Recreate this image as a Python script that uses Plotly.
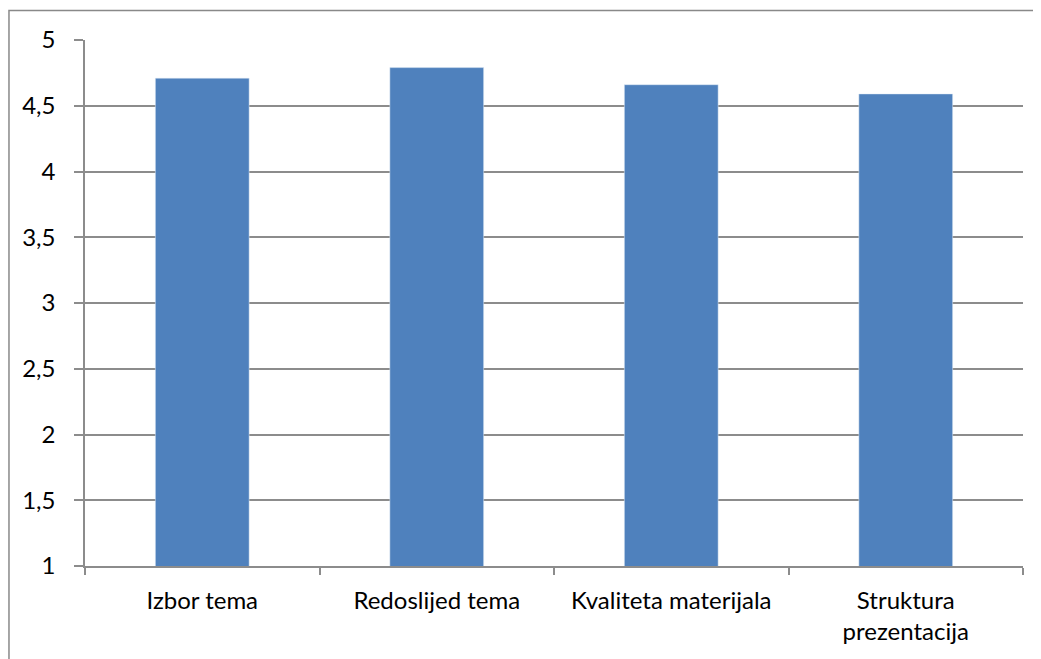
import plotly.graph_objects as go

# ── Datos ─────────────────────────────────────────────────────────────
categorias = ["Izbor tema", "Redoslijed tema", "Kvaliteta materijala",
              "Struktura<br>prezentacija"]
ocjene = [4.71, 4.79, 4.66, 4.59]
y_ticks = [1, 1.5, 2, 2.5, 3, 3.5, 4, 4.5, 5]

# La página añade 8 px de margen al body: se compensa aquí
OFF = 8
W, H = 1041 - OFF, 659 - OFF
L, R, T, B = 85 - OFF, 18.3, 39.5 - OFF, 93
FONT = dict(family="Lato, Open Sans, sans-serif", size=24, color="#000000")
GRID = "#8c8c8c"

fig = go.Figure(go.Bar(
    x=categorias, y=ocjene,
    marker_color="#4F81BD",
    width=0.4,
    hoverinfo="x+y",
))

# Marco exterior (se corta a la derecha y abajo)
pw, ph = W - L - R, H - T - B
fig.add_shape(
    type="rect", xref="paper", yref="paper", layer="above",
    x0=(9 - OFF - L) / pw, x1=(W + 5 - L) / pw,
    y0=-(H + 5 - T - ph) / ph, y1=1 + (T - (10 - OFF)) / ph,
    line=dict(color="#898989", width=1.5),
)

fig.update_layout(
    width=W, height=H,
    margin=dict(l=L, r=R, t=T, b=B),
    paper_bgcolor="white", plot_bgcolor="white",
    separators=", ",
    showlegend=False,
    font=FONT,
    xaxis=dict(
        type="category",
        tickson="boundaries",
        ticks="outside", ticklen=7, tickcolor=GRID, tickwidth=1.5,
        showline=True, linecolor=GRID, linewidth=1.5,
        showgrid=False,
        tickfont=FONT,
        ticklabelstandoff=12,
    ),
    yaxis=dict(
        range=[1, 5],
        tickvals=y_ticks,
        ticks="outside", ticklen=9, tickcolor=GRID, tickwidth=1.5,
        showline=True, linecolor=GRID, linewidth=1.5,
        showgrid=True, gridcolor=GRID, gridwidth=1.5,
        zeroline=False,
        tickfont=FONT,
        ticklabelstandoff=14,
    ),
)

fig.write_html("out.html")
